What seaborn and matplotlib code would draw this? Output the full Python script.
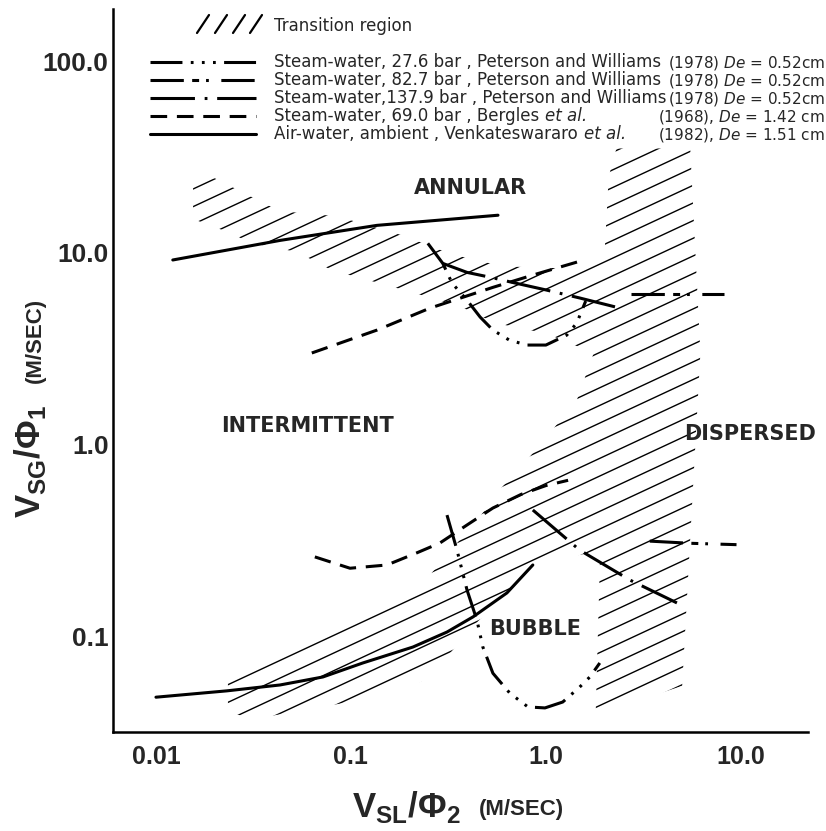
import numpy as np
import matplotlib
matplotlib.use("Agg")
import matplotlib.pyplot as plt
import seaborn as sns
from matplotlib.patches import Polygon
from matplotlib.collections import LineCollection
from matplotlib.lines import Line2D
from matplotlib.ticker import LogLocator, NullFormatter, FixedLocator

# ---------------- data ----------------
air_upper_x = [0.0122, 0.0433, 0.136, 0.568]
air_upper_y = [9.17, 11.6, 13.9, 15.7]
air_lower_x = [0.01, 0.0231, 0.0433, 0.0718, 0.115, 0.208, 0.311, 0.423, 0.631, 0.857]
air_lower_y = [0.048, 0.0518, 0.0556, 0.0612, 0.0724, 0.0877, 0.105, 0.126, 0.168, 0.235]

bergles_upper_x = [0.063, 0.136, 0.254, 0.535, 0.857, 1.53]
bergles_upper_y = [3.0, 3.95, 5.14, 6.6, 7.65, 9.1]
bergles_lower_x = [0.0653, 0.0989, 0.153, 0.218, 0.286, 0.394, 0.535, 0.75, 1.0, 1.3]
bergles_lower_y = [0.259, 0.226, 0.235, 0.272, 0.306, 0.38, 0.466, 0.55, 0.61, 0.65]

p276_upper_x = [0.248, 0.296, 0.33, 0.394, 0.46, 0.535, 0.65, 0.8, 1.0, 1.28, 1.44, 1.6]
p276_upper_y = [11.2, 8.8, 6.95, 5.66, 4.62, 3.95, 3.5, 3.3, 3.3, 3.72, 4.3, 5.6]
p276_lower_x = [0.311, 0.35, 0.394, 0.443, 0.475, 0.535, 0.653, 0.809, 0.989, 1.22, 1.49, 1.68, 1.89]
p276_lower_y = [0.428, 0.281, 0.174, 0.121, 0.0877, 0.064, 0.0504, 0.0427, 0.0422, 0.0453, 0.0542, 0.0612, 0.0724]

p827_upper_x = [2.73, 4.7, 8.2]
p827_upper_y = [6.1, 6.1, 6.1]
p827_lower_x = [3.41, 5.5, 9.5]
p827_lower_y = [0.313, 0.305, 0.30]

p1379_upper_x = [0.296, 0.394, 0.535, 0.675, 1.0, 1.5, 2.3]
p1379_upper_y = [8.8, 7.9, 7.4, 7.0, 6.4, 5.8, 5.2]
p1379_lower_x = [0.857, 1.49, 2.7, 4.7]
p1379_lower_y = [0.455, 0.281, 0.196, 0.149]

# outline of the hatched transition region
trans_x = [0.0155, 0.02, 0.043, 0.085, 0.185, 0.33, 0.6, 1.2, 2.0, 2.1, 2.3, 5.5, 6.2, 5.0,
           1.8, 1.9, 0.86, 0.63, 0.45, 0.3, 0.23, 0.12, 0.032, 0.026, 0.0234, 0.0234,
           0.254, 0.475, 0.56, 0.76, 1.05, 1.44, 1.76, 1.0, 0.55, 0.37, 0.22, 0.136,
           0.08, 0.053, 0.03, 0.025, 0.0155]
trans_y = [24, 24.5, 16.5, 15.5, 12.3, 9.8, 8.5, 8.3, 10, 25, 35, 35, 3, 0.055,
           0.039, 0.28, 0.235, 0.165, 0.12, 0.075, 0.058, 0.047, 0.037, 0.039, 0.044, 0.057,
           0.208, 0.44, 0.56, 0.78, 1.15, 1.7, 3.0, 3.8, 4.3, 5.2, 6.1, 7.0,
           8.1, 10.1, 11.3, 12.5, 15]

xtick_values = [0.01, 0.1, 1.0, 10.0]
xtick_labels = ["0.01", "0.1", "1.0", "10.0"]
ytick_values = [0.1, 1.0, 10.0, 100.0]
ytick_labels = ["0.1", "1.0", "10.0", "100.0"]

regions = ["ANNULAR", "INTERMITTENT", "DISPERSED", "BUBBLE"]
region_x = [0.41, 0.060, 11.2, 0.88]
region_y = [21.7, 1.25, 1.13, 0.109]

legend_left = [
    "Steam-water, 27.6 bar , Peterson and Williams",
    "Steam-water, 82.7 bar , Peterson and Williams",
    "Steam-water,137.9 bar , Peterson and Williams",
    "Steam-water, 69.0 bar , Bergles",
    "Air-water, ambient , Venkateswararo",
]
legend_italic = ["", "", "", "et al.", "et al."]
legend_right = [
    r"(1978) $\mathit{De}$ = 0.52cm",
    r"(1978) $\mathit{De}$ = 0.52cm",
    r"(1978) $\mathit{De}$ = 0.52cm",
    r"(1968), $\mathit{De}$ = 1.42 cm",
    r"(1982), $\mathit{De}$ = 1.51 cm",
]

# ---------------- style ----------------
sns.set_style("white")
plt.rcParams["font.family"] = ["DejaVu Sans"]
plt.rcParams["mathtext.fontset"] = "custom"
plt.rcParams["mathtext.rm"] = "DejaVu Sans"
plt.rcParams["mathtext.it"] = "DejaVu Sans:italic"
plt.rcParams["mathtext.bf"] = "Liberation Sans:bold"
plt.rcParams["lines.scale_dashes"] = False

FW, FH = 826, 831
fig = plt.figure(figsize=(FW / 100, FH / 100), dpi=100)
AX_L, AX_B, AX_W, AX_H = 112.7, 732.0, 695.3, 723.0
ax = fig.add_axes([AX_L / FW, (FH - AX_B) / FH, AX_W / FW, AX_H / FH])
ax.set_xscale("log")
ax.set_yscale("log")
ax.set_xlim(0.006, 22.1)
ax.set_ylim(0.0316, 187)

def fx(px):
    return px / FW

def fy(py):
    return 1 - py / FH

styles = {
    "p276": (0, (23, 6, 2, 6, 2, 6, 2, 6)),
    "p827": (0, (24, 6, 5, 5, 2, 9)),
    "p1379": (0, (32, 7, 2, 7)),
    "bergles": (0, (12, 7)),
    "air": "solid",
}

curves = [
    (air_upper_x, air_upper_y, "air"),
    (air_lower_x, air_lower_y, "air"),
    (bergles_upper_x, bergles_upper_y, "bergles"),
    (bergles_lower_x, bergles_lower_y, "bergles"),
    (p276_upper_x, p276_upper_y, "p276"),
    (p276_lower_x, p276_lower_y, "p276"),
    (p827_upper_x, p827_upper_y, "p827"),
    (p827_lower_x, p827_lower_y, "p827"),
    (p1379_upper_x, p1379_upper_y, "p1379"),
    (p1379_lower_x, p1379_lower_y, "p1379"),
]

# ---------------- transition hatch ----------------
patch = Polygon(np.column_stack([trans_x, trans_y]), closed=True, transform=ax.transData,
                facecolor="none", edgecolor="none")
ax.add_patch(patch)
theta = np.deg2rad(25)
d = np.array([np.cos(theta), np.sin(theta)])
nrm = np.array([-np.sin(theta), np.cos(theta)])
corners = np.array([[0, 0], [AX_W, 0], [0, AX_H], [AX_W, AX_H]])
proj = corners @ nrm
L = np.hypot(AX_W, AX_H)
segs = []
for c in np.arange(proj.min(), proj.max(), 16.0):
    p0 = c * nrm - 2 * L * d
    p1 = c * nrm + 2 * L * d
    segs.append([(p0[0] / AX_W, p0[1] / AX_H), (p1[0] / AX_W, p1[1] / AX_H)])
hatch = LineCollection(segs, colors="black", linewidths=1.0, transform=ax.transAxes)
ax.add_collection(hatch)
hatch.set_clip_path(patch)

# ---------------- curves ----------------
for xs, ys, key in curves:
    sns.lineplot(x=xs, y=ys, ax=ax, color="black", lw=2.2, linestyle=styles[key],
                 sort=False, estimator=None, legend=False, dash_capstyle="butt")

# ---------------- axes ----------------
sns.despine(ax=ax)
for s in ["left", "bottom"]:
    ax.spines[s].set_linewidth(1.8)
    ax.spines[s].set_color("black")
ax.xaxis.set_major_locator(FixedLocator(xtick_values))
ax.yaxis.set_major_locator(FixedLocator(ytick_values))
ax.set_xticks(xtick_values, labels=xtick_labels)
ax.set_yticks(ytick_values, labels=ytick_labels)
for axis in (ax.xaxis, ax.yaxis):
    axis.set_minor_locator(LogLocator(base=10, subs=np.arange(2, 10), numticks=50))
    axis.set_minor_formatter(NullFormatter())
ax.set_xlim(0.006, 22.1)
ax.set_ylim(0.0316, 187)
ax.tick_params(axis="x", which="major", direction="in", length=21.5, width=1.5, pad=9, color="black")
ax.tick_params(axis="x", which="minor", direction="in", length=7, width=1.5, color="black")
ax.tick_params(axis="y", which="major", direction="in", length=26, width=1.5, pad=3, color="black")
ax.tick_params(axis="y", which="minor", direction="in", length=8.5, width=1.5, color="black")
for lbl in ax.get_xticklabels():
    lbl.set_fontfamily("Liberation Sans")
    lbl.set_fontweight("bold")
    lbl.set_fontsize(18)
for lbl in ax.get_yticklabels():
    lbl.set_fontfamily("Liberation Sans")
    lbl.set_fontweight("bold")
    lbl.set_fontsize(19)

# region names
for name, rx, ry in zip(regions, region_x, region_y):
    ax.text(rx, ry, name, ha="center", va="center", fontsize=15, fontweight="bold",
            family="DejaVu Sans", clip_on=False)

# axis labels
fig.text(fx(406), fy(817), r"$\mathbf{V}_{\mathbf{SL}}\mathbf{/\Phi}_{\mathbf{2}}$",
         ha="center", va="baseline", fontsize=25)
fig.text(fx(479), fy(815), "(M/SEC)", ha="left", va="baseline", fontsize=16,
         family="Liberation Sans", fontweight="bold")
fig.text(fx(30), fy(462), r"$\mathbf{V}_{\mathbf{SG}}\mathbf{/\Phi}_{\mathbf{1}}$",
         ha="center", va="center", fontsize=25, rotation=90)
fig.text(fx(35), fy(340), "(M/SEC)", ha="center", va="center", fontsize=16,
         family="Liberation Sans", fontweight="bold", rotation=90)

# ---------------- legend ----------------
for x0 in [197, 215, 233, 250]:
    fig.add_artist(Line2D([fx(x0), fx(x0 + 12)], [fy(33), fy(15)], color="black", lw=1.6))
fig.text(fx(274), fy(31), "Transition region", ha="left", va="baseline", fontsize=12)

renderer = fig.canvas.get_renderer()
leg_keys = ["p276", "p827", "p1379", "bergles", "air"]
leg_rows = [62, 80, 98, 116, 134]
for key, row, lt, it, rt in zip(leg_keys, leg_rows, legend_left, legend_italic, legend_right):
    fig.add_artist(Line2D([fx(150), fx(256)], [fy(row), fy(row)], color="black", lw=2.2,
                          linestyle=styles[key], dash_capstyle="butt"))
    base = row + 5
    t = fig.text(fx(274), fy(base), lt, ha="left", va="baseline", fontsize=12)
    if it:
        bb = t.get_window_extent(renderer=renderer)
        fig.text(fx(bb.x1 + 6), fy(base), it, ha="left", va="baseline", fontsize=12,
                 style="italic")
    fig.text(fx(825), fy(base), rt, ha="right", va="baseline", fontsize=11)

fig.savefig("out.png", dpi=100)
